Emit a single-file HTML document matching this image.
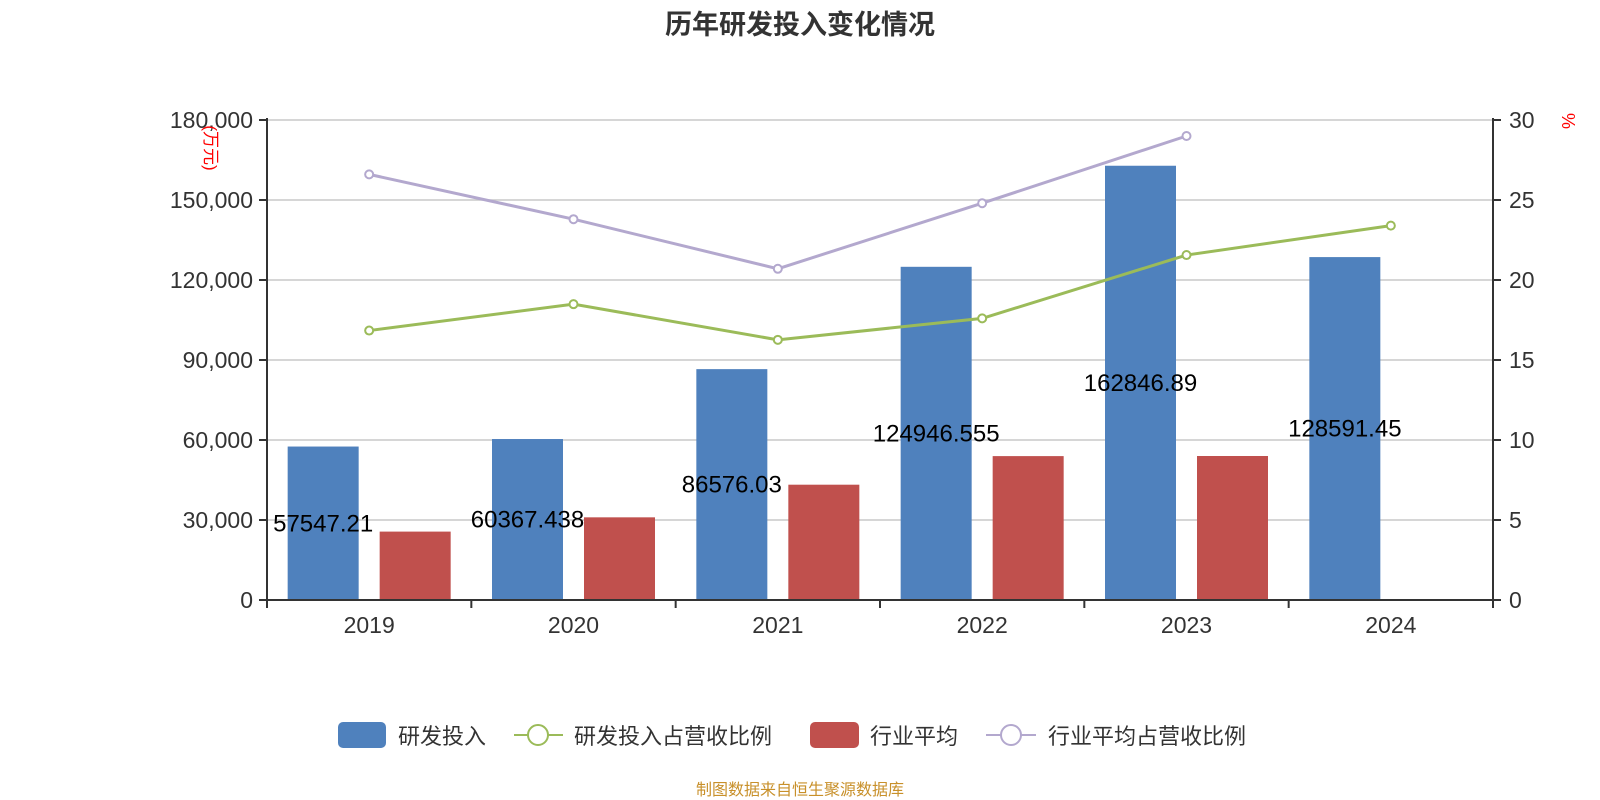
<!DOCTYPE html>
<html><head><meta charset="utf-8"><style>
html,body{margin:0;padding:0;background:#fff;}
svg{display:block;font-family:"Liberation Sans","Noto Sans CJK SC",sans-serif;}
</style></head><body>
<svg id="chart" width="1600" height="800" viewBox="0 0 1600 800">
<text x="800" y="34" text-anchor="middle" font-size="27" font-weight="bold" fill="#333">历年研发投入变化情况</text>
<g id="grid"></g><g id="bars"></g><g id="lines"></g><g id="axes"></g><g id="labels"></g>
<text transform="translate(205,148) rotate(90)" text-anchor="middle" font-size="17" fill="#f00">(万元)</text>
<text transform="translate(1562,121) rotate(90)" text-anchor="middle" font-size="18" fill="#f00">%</text>
<g>
<g><rect x="338" y="722" width="48" height="26" rx="5" fill="#4f81bd"/><text x="398" y="744" font-size="22" fill="#333">研发投入</text></g>
<g><line x1="514" y1="735" x2="563" y2="735" stroke="#9bbb59" stroke-width="2"/><circle cx="538" cy="735" r="10" fill="#fff" stroke="#9bbb59" stroke-width="2"/><text x="574" y="744" font-size="22" fill="#333">研发投入占营收比例</text></g>
<g><rect x="810" y="722" width="49" height="26" rx="5" fill="#c0504d"/><text x="870" y="744" font-size="22" fill="#333">行业平均</text></g>
<g><line x1="986" y1="735" x2="1036" y2="735" stroke="#b3a8ce" stroke-width="2"/><circle cx="1011" cy="735" r="10" fill="#fff" stroke="#b3a8ce" stroke-width="2"/><text x="1048" y="744" font-size="22" fill="#333">行业平均占营收比例</text></g>
</g>
<text x="800" y="795" text-anchor="middle" font-size="16" fill="#c8902a">制图数据来自恒生聚源数据库</text>
</svg>
<script>
const categories = ["2019","2020","2021","2022","2023","2024"];
const rdInvest = [57547.21, 60367.438, 86576.03, 124946.555, 162846.89, 128591.45];
const rdLabels = ["57547.21","60367.438","86576.03","124946.555","162846.89","128591.45"];
const industryAvg = [25650, 31000, 43240, 53960, 54000, null];
const rdRatio = [16.84, 18.49, 16.26, 17.6, 21.56, 23.4];
const industryRatio = [26.6, 23.8, 20.7, 24.8, 29.0, null];
const leftTicks = [0, 30000, 60000, 90000, 120000, 150000, 180000];
const rightTicks = [0, 5, 10, 15, 20, 25, 30];

const NS = "http://www.w3.org/2000/svg";
const L = 267, R = 1493, T = 120, B = 600;
const bw = (R - L) / categories.length;
const yL = v => B - v / 180000 * (B - T);
const yR = v => B - v / 30 * (B - T);
const xC = i => L + bw * (i + 0.5);
function mk(parent, tag, attrs, text) {
  const e = document.createElementNS(NS, tag);
  for (const k in attrs) e.setAttribute(k, attrs[k]);
  if (text !== undefined) e.textContent = text;
  document.getElementById(parent).appendChild(e);
  return e;
}
leftTicks.forEach((t, i) => {
  const y = yL(t);
  if (t > 0) { const g = mk("grid", "line", {x1: L, x2: R, y1: y, y2: y, stroke: "#c8c8c8", "stroke-width": 1.5});
    
     }
  mk("axes", "line", {x1: L - 8, x2: L, y1: y, y2: y, stroke: "#333", "stroke-width": 2});
  const tl = mk("axes", "text", {x: L - 14, y: y + 8, "text-anchor": "end", "font-size": 23, fill: "#333"}, t.toLocaleString("en-US"));
  
  
});
rightTicks.forEach(t => {
  const y = yR(t);
  mk("axes", "line", {x1: R, x2: R + 8, y1: y, y2: y, stroke: "#333", "stroke-width": 2});
  const tl = mk("axes", "text", {x: R + 16, y: y + 8, "font-size": 23, fill: "#333"}, String(t));
  
  
});
mk("axes", "line", {x1: L, x2: L, y1: T - 2, y2: B + 8, stroke: "#333", "stroke-width": 2});
mk("axes", "line", {x1: R, x2: R, y1: T - 2, y2: B + 8, stroke: "#333", "stroke-width": 2});
mk("axes", "line", {x1: L, x2: R, y1: B, y2: B, stroke: "#333", "stroke-width": 2});
for (let i = 0; i <= categories.length; i++) {
  const x = L + bw * i;
  mk("axes", "line", {x1: x, x2: x, y1: B, y2: B + 8, stroke: "#333", "stroke-width": 2});
}
categories.forEach((c, i) => {
  const tl = mk("axes", "text", {x: xC(i), y: B + 33, "text-anchor": "middle", "font-size": 23, fill: "#333"}, c);
  
  
  const bx = xC(i) - 46 - 35.5;
  const b = mk("bars", "rect", {x: bx, y: yL(rdInvest[i]), width: 71, height: B - yL(rdInvest[i]), fill: "#4f81bd"});
  
  
  const lb = mk("labels", "text", {x: xC(i) - 46, y: (yL(rdInvest[i]) + B) / 2 + 8, "text-anchor": "middle", "font-size": 24, fill: "#000"}, rdLabels[i]);
  
  
  if (industryAvg[i] != null) {
    const r = mk("bars", "rect", {x: xC(i) + 46 - 35.5, y: yL(industryAvg[i]), width: 71, height: B - yL(industryAvg[i]), fill: "#c0504d"});
    
    
  }
});
function drawLine(vals, color, name) {
  const pts = [];
  vals.forEach((v, i) => { if (v != null) pts.push([xC(i), yR(v)]); });
  const pl = mk("lines", "polyline", {points: pts.map(p => p.join(",")).join(" "), fill: "none", stroke: color, "stroke-width": 3});
  
  
  pts.forEach(p => {
    const c = mk("lines", "circle", {cx: p[0], cy: p[1], r: 4, fill: "#fff", stroke: color, "stroke-width": 2});
    
    
  });
}
drawLine(rdRatio, "#9bbb59", "rd-ratio");
drawLine(industryRatio, "#b3a8ce", "industry-ratio");
</script>
</body></html>
